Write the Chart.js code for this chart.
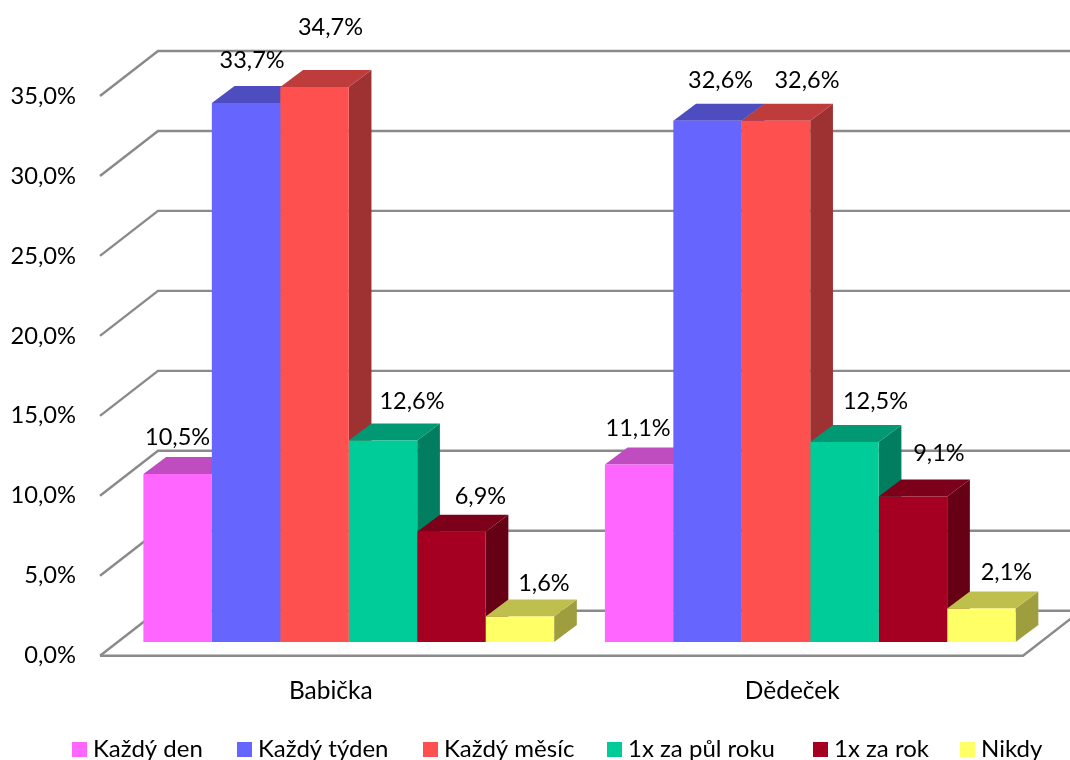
<!DOCTYPE html>
<html>
<head>
<meta charset="utf-8">
<title>Babička a Dědeček</title>
<script src="https://cdn.jsdelivr.net/npm/chart.js@4"></script>
<style>
html, body { margin: 0; padding: 0; background: #fff; overflow: hidden; }
canvas { display: block; }
</style>
</head>
<body>
<canvas id="mycanvas" width="1070" height="760"></canvas>
<script>
var categories = ['Babička', 'Dědeček'];
var seriesNames = ['Každý den', 'Každý týden', 'Každý měsíc', '1x za půl roku', '1x za rok', 'Nikdy'];
var kazdyDen = [10.5, 11.1];
var kazdyTyden = [33.7, 32.6];
var kazdyMesic = [34.7, 32.6];
var zaPulRoku = [12.6, 12.5];
var zaRok = [6.9, 9.1];
var nikdy = [1.6, 2.1];
var tickValues = [0, 5, 10, 15, 20, 25, 30, 35];

var seriesValues = [kazdyDen, kazdyTyden, kazdyMesic, zaPulRoku, zaRok, nikdy];
var colors = [[255, 102, 255], [102, 102, 255], [255, 80, 80], [0, 204, 153], [165, 0, 33], [255, 255, 102]];

var GRID = '#8a8a8a';
// 3d offsets in px: back wall, bar front, bar depth
var WALL = { x: 58, y: -45 };
var FRONT = { x: 18, y: -13.7 };
var DEPTH = { x: 22.7, y: -17 };
// excel placed the labels by hand, [dx, dy] from the top middle of the bar front
var labelNudge = [
    [[0, -37], [-1, -36]],
    [[6, -43], [13, -40]],
    [[16, -60], [31, -40]],
    [[29, -39], [31, -41]],
    [[29, -35], [26, -43]],
    [[24, -33], [25, -36]]
];
// left edge of each legend swatch
var legendLeft = [72, 237, 423, 607, 813, 960];

function rgb(c, f) {
    return 'rgb(' + Math.round(c[0] * f) + ',' + Math.round(c[1] * f) + ',' + Math.round(c[2] * f) + ')';
}

function poly(ctx, pts, color) {
    ctx.fillStyle = color;
    ctx.beginPath();
    ctx.moveTo(pts[0][0], pts[0][1]);
    for (var i = 1; i < pts.length; i++) {
        ctx.lineTo(pts[i][0], pts[i][1]);
    }
    ctx.closePath();
    ctx.fill();
}

var box3d = {
    id: 'box3d',
    beforeDatasetsDraw: function (chart) {
        var ctx = chart.ctx;
        var a = chart.chartArea;
        var y = chart.scales.y;

        // walls
        ctx.save();
        ctx.strokeStyle = GRID;
        ctx.lineWidth = 2.4;
        tickValues.forEach(function (v) {
            var py = y.getPixelForValue(v);
            ctx.beginPath();
            ctx.moveTo(a.left, py);
            ctx.lineTo(a.left + WALL.x, py + WALL.y);
            ctx.lineTo(1070, py + WALL.y);
            ctx.stroke();
        });
        // floor
        ctx.beginPath();
        ctx.moveTo(a.left, a.bottom);
        ctx.lineTo(a.right, a.bottom);
        ctx.lineTo(a.right + WALL.x, a.bottom + WALL.y);
        ctx.stroke();
        ctx.restore();

        // side and top faces, left to right so the later bars sit on top
        ctx.save();
        ctx.translate(FRONT.x, FRONT.y);
        for (var c = 0; c < categories.length; c++) {
            for (var d = 0; d < seriesValues.length; d++) {
                var el = chart.getDatasetMeta(d).data[c];
                var l = el.x - el.width / 2, r = el.x + el.width / 2;
                poly(ctx, [[r, el.y], [r + DEPTH.x, el.y + DEPTH.y], [r + DEPTH.x, el.base + DEPTH.y], [r, el.base]], rgb(colors[d], 0.62));
                poly(ctx, [[l, el.y], [l + DEPTH.x, el.y + DEPTH.y], [r + DEPTH.x, el.y + DEPTH.y], [r, el.y]], rgb(colors[d], 0.75));
            }
        }
        ctx.restore();

        // the library draws the front faces inside this translate
        ctx.save();
        ctx.translate(FRONT.x, FRONT.y);
    },
    afterDatasetsDraw: function (chart) {
        var ctx = chart.ctx;
        ctx.restore();

        ctx.save();
        ctx.font = '23.5px Lato';
        ctx.fillStyle = '#000';
        ctx.textAlign = 'center';
        ctx.textBaseline = 'middle';
        for (var d = 0; d < seriesValues.length; d++) {
            for (var c = 0; c < categories.length; c++) {
                var el = chart.getDatasetMeta(d).data[c];
                var txt = seriesValues[d][c].toFixed(1).replace('.', ',') + '%';
                ctx.fillText(txt, el.x + FRONT.x + labelNudge[d][c][0], el.y + FRONT.y + labelNudge[d][c][1]);
            }
        }
        ctx.restore();

        // legend, the built in one can't do the tight gap after the swatch
        ctx.save();
        ctx.font = '24px Lato';
        ctx.textBaseline = 'alphabetic';
        for (var i = 0; i < seriesNames.length; i++) {
            ctx.fillStyle = rgb(colors[i], 1);
            ctx.fillRect(legendLeft[i], 742, 15, 15);
            ctx.fillStyle = '#000';
            ctx.fillText(seriesNames[i], legendLeft[i] + 21, 757);
        }
        ctx.restore();
    }
};

var chartdata = {
    labels: categories,
    datasets: seriesNames.map(function (name, i) {
        return {
            label: name,
            data: seriesValues[i],
            backgroundColor: rgb(colors[i], 1),
            borderWidth: 0,
            clip: false,
            barPercentage: 1,
            categoryPercentage: 0.89
        };
    })
};

var ctx = document.getElementById('mycanvas');
var myBarChart = new Chart(ctx, {
    type: 'bar',
    data: chartdata,
    plugins: [box3d],
    options: {
        responsive: false,
        animation: false,
        layout: { padding: { top: 96, right: 47, bottom: 44.3, left: 0 } },
        plugins: {
            legend: { display: false },
            tooltip: { enabled: false }
        },
        scales: {
            x: {
                afterFit: function (scale) { scale.height = 60; },
                grid: { display: false },
                border: { display: false },
                ticks: { color: '#000', font: { family: 'Lato', size: 24.5 }, padding: 13, maxRotation: 0 }
            },
            y: {
                min: 0,
                max: 35,
                afterFit: function (scale) { scale.width = 100; },
                afterBuildTicks: function (scale) {
                    scale.ticks = tickValues.map(function (v) { return { value: v }; });
                },
                grid: { display: false },
                border: { display: false },
                ticks: {
                    color: '#000',
                    font: { family: 'Lato', size: 23.7 },
                    padding: 16,
                    callback: function (v) { return v.toFixed(1).replace('.', ',') + '%'; }
                }
            }
        }
    }
});
</script>
</body>
</html>
